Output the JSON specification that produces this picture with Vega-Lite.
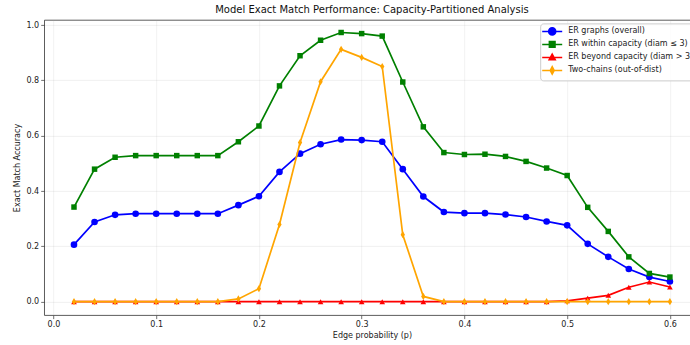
{
  "$schema": "https://vega.github.io/schema/vega-lite/v6.json",
  "autosize": "none",
  "padding": {"left": 44.2, "top": 19.9, "right": -9.7, "bottom": 29.9},
  "width": 655.5,
  "height": 295.2,
  "background": "white",
  "config": {
    "font": "DejaVu Sans",
    "view": {"stroke": "#333333", "strokeWidth": 0.8},
    "axis": {
      "domain": false,
      "grid": true,
      "gridColor": "#b0b0b0",
      "gridOpacity": 0.3,
      "gridWidth": 0.6,
      "tickColor": "#333333",
      "tickSize": 3.5,
      "tickWidth": 0.7,
      "labelFont": "DejaVu Sans",
      "labelFontSize": 8,
      "labelColor": "#222222",
      "labelPadding": 2,
      "titleFont": "DejaVu Sans",
      "titleFontSize": 8,
      "titleFontWeight": "normal",
      "titleColor": "#222222"
    },
    "title": {"font": "DejaVu Sans", "fontSize": 10, "fontWeight": "normal", "color": "#111111", "offset": 5}
  },
  "title": {"text": "Model Exact Match Performance: Capacity-Partitioned Analysis", "anchor": "middle"},
  "data": {
    "values": [
      {"p": 0.02, "series": "ER graphs (overall)", "acc": 0.206},
      {"p": 0.04, "series": "ER graphs (overall)", "acc": 0.288},
      {"p": 0.06, "series": "ER graphs (overall)", "acc": 0.314},
      {"p": 0.08, "series": "ER graphs (overall)", "acc": 0.318},
      {"p": 0.10, "series": "ER graphs (overall)", "acc": 0.318},
      {"p": 0.12, "series": "ER graphs (overall)", "acc": 0.318},
      {"p": 0.14, "series": "ER graphs (overall)", "acc": 0.318},
      {"p": 0.16, "series": "ER graphs (overall)", "acc": 0.318},
      {"p": 0.18, "series": "ER graphs (overall)", "acc": 0.349},
      {"p": 0.20, "series": "ER graphs (overall)", "acc": 0.381},
      {"p": 0.22, "series": "ER graphs (overall)", "acc": 0.469},
      {"p": 0.24, "series": "ER graphs (overall)", "acc": 0.535},
      {"p": 0.26, "series": "ER graphs (overall)", "acc": 0.569},
      {"p": 0.28, "series": "ER graphs (overall)", "acc": 0.586},
      {"p": 0.30, "series": "ER graphs (overall)", "acc": 0.584},
      {"p": 0.32, "series": "ER graphs (overall)", "acc": 0.578},
      {"p": 0.34, "series": "ER graphs (overall)", "acc": 0.479},
      {"p": 0.36, "series": "ER graphs (overall)", "acc": 0.380},
      {"p": 0.38, "series": "ER graphs (overall)", "acc": 0.324},
      {"p": 0.40, "series": "ER graphs (overall)", "acc": 0.320},
      {"p": 0.42, "series": "ER graphs (overall)", "acc": 0.320},
      {"p": 0.44, "series": "ER graphs (overall)", "acc": 0.315},
      {"p": 0.46, "series": "ER graphs (overall)", "acc": 0.306},
      {"p": 0.48, "series": "ER graphs (overall)", "acc": 0.290},
      {"p": 0.50, "series": "ER graphs (overall)", "acc": 0.276},
      {"p": 0.52, "series": "ER graphs (overall)", "acc": 0.209},
      {"p": 0.54, "series": "ER graphs (overall)", "acc": 0.162},
      {"p": 0.56, "series": "ER graphs (overall)", "acc": 0.118},
      {"p": 0.58, "series": "ER graphs (overall)", "acc": 0.089},
      {"p": 0.60, "series": "ER graphs (overall)", "acc": 0.073},
      {"p": 0.02, "series": "ER within capacity (diam ≤ 3)", "acc": 0.342},
      {"p": 0.04, "series": "ER within capacity (diam ≤ 3)", "acc": 0.479},
      {"p": 0.06, "series": "ER within capacity (diam ≤ 3)", "acc": 0.522},
      {"p": 0.08, "series": "ER within capacity (diam ≤ 3)", "acc": 0.528},
      {"p": 0.10, "series": "ER within capacity (diam ≤ 3)", "acc": 0.528},
      {"p": 0.12, "series": "ER within capacity (diam ≤ 3)", "acc": 0.528},
      {"p": 0.14, "series": "ER within capacity (diam ≤ 3)", "acc": 0.528},
      {"p": 0.16, "series": "ER within capacity (diam ≤ 3)", "acc": 0.528},
      {"p": 0.18, "series": "ER within capacity (diam ≤ 3)", "acc": 0.578},
      {"p": 0.20, "series": "ER within capacity (diam ≤ 3)", "acc": 0.635},
      {"p": 0.22, "series": "ER within capacity (diam ≤ 3)", "acc": 0.780},
      {"p": 0.24, "series": "ER within capacity (diam ≤ 3)", "acc": 0.889},
      {"p": 0.26, "series": "ER within capacity (diam ≤ 3)", "acc": 0.945},
      {"p": 0.28, "series": "ER within capacity (diam ≤ 3)", "acc": 0.973},
      {"p": 0.30, "series": "ER within capacity (diam ≤ 3)", "acc": 0.969},
      {"p": 0.32, "series": "ER within capacity (diam ≤ 3)", "acc": 0.960},
      {"p": 0.34, "series": "ER within capacity (diam ≤ 3)", "acc": 0.794},
      {"p": 0.36, "series": "ER within capacity (diam ≤ 3)", "acc": 0.632},
      {"p": 0.38, "series": "ER within capacity (diam ≤ 3)", "acc": 0.539},
      {"p": 0.40, "series": "ER within capacity (diam ≤ 3)", "acc": 0.532},
      {"p": 0.42, "series": "ER within capacity (diam ≤ 3)", "acc": 0.533},
      {"p": 0.44, "series": "ER within capacity (diam ≤ 3)", "acc": 0.525},
      {"p": 0.46, "series": "ER within capacity (diam ≤ 3)", "acc": 0.507},
      {"p": 0.48, "series": "ER within capacity (diam ≤ 3)", "acc": 0.483},
      {"p": 0.50, "series": "ER within capacity (diam ≤ 3)", "acc": 0.456},
      {"p": 0.52, "series": "ER within capacity (diam ≤ 3)", "acc": 0.341},
      {"p": 0.54, "series": "ER within capacity (diam ≤ 3)", "acc": 0.254},
      {"p": 0.56, "series": "ER within capacity (diam ≤ 3)", "acc": 0.162},
      {"p": 0.58, "series": "ER within capacity (diam ≤ 3)", "acc": 0.102},
      {"p": 0.60, "series": "ER within capacity (diam ≤ 3)", "acc": 0.089},
      {"p": 0.02, "series": "ER beyond capacity (diam > 3)", "acc": 0},
      {"p": 0.04, "series": "ER beyond capacity (diam > 3)", "acc": 0},
      {"p": 0.06, "series": "ER beyond capacity (diam > 3)", "acc": 0},
      {"p": 0.08, "series": "ER beyond capacity (diam > 3)", "acc": 0},
      {"p": 0.10, "series": "ER beyond capacity (diam > 3)", "acc": 0},
      {"p": 0.12, "series": "ER beyond capacity (diam > 3)", "acc": 0},
      {"p": 0.14, "series": "ER beyond capacity (diam > 3)", "acc": 0},
      {"p": 0.16, "series": "ER beyond capacity (diam > 3)", "acc": 0},
      {"p": 0.18, "series": "ER beyond capacity (diam > 3)", "acc": 0},
      {"p": 0.20, "series": "ER beyond capacity (diam > 3)", "acc": 0},
      {"p": 0.22, "series": "ER beyond capacity (diam > 3)", "acc": 0},
      {"p": 0.24, "series": "ER beyond capacity (diam > 3)", "acc": 0},
      {"p": 0.26, "series": "ER beyond capacity (diam > 3)", "acc": 0},
      {"p": 0.28, "series": "ER beyond capacity (diam > 3)", "acc": 0},
      {"p": 0.30, "series": "ER beyond capacity (diam > 3)", "acc": 0},
      {"p": 0.32, "series": "ER beyond capacity (diam > 3)", "acc": 0},
      {"p": 0.34, "series": "ER beyond capacity (diam > 3)", "acc": 0},
      {"p": 0.36, "series": "ER beyond capacity (diam > 3)", "acc": 0},
      {"p": 0.38, "series": "ER beyond capacity (diam > 3)", "acc": 0},
      {"p": 0.40, "series": "ER beyond capacity (diam > 3)", "acc": 0},
      {"p": 0.42, "series": "ER beyond capacity (diam > 3)", "acc": 0},
      {"p": 0.44, "series": "ER beyond capacity (diam > 3)", "acc": 0},
      {"p": 0.46, "series": "ER beyond capacity (diam > 3)", "acc": 0},
      {"p": 0.48, "series": "ER beyond capacity (diam > 3)", "acc": 0},
      {"p": 0.50, "series": "ER beyond capacity (diam > 3)", "acc": 0.003},
      {"p": 0.52, "series": "ER beyond capacity (diam > 3)", "acc": 0.013},
      {"p": 0.54, "series": "ER beyond capacity (diam > 3)", "acc": 0.023},
      {"p": 0.56, "series": "ER beyond capacity (diam > 3)", "acc": 0.052},
      {"p": 0.58, "series": "ER beyond capacity (diam > 3)", "acc": 0.071},
      {"p": 0.60, "series": "ER beyond capacity (diam > 3)", "acc": 0.053},
      {"p": 0.02, "series": "Two-chains (out-of-dist)", "acc": 0},
      {"p": 0.04, "series": "Two-chains (out-of-dist)", "acc": 0},
      {"p": 0.06, "series": "Two-chains (out-of-dist)", "acc": 0},
      {"p": 0.08, "series": "Two-chains (out-of-dist)", "acc": 0},
      {"p": 0.10, "series": "Two-chains (out-of-dist)", "acc": 0},
      {"p": 0.12, "series": "Two-chains (out-of-dist)", "acc": 0},
      {"p": 0.14, "series": "Two-chains (out-of-dist)", "acc": 0},
      {"p": 0.16, "series": "Two-chains (out-of-dist)", "acc": 0},
      {"p": 0.18, "series": "Two-chains (out-of-dist)", "acc": 0.010},
      {"p": 0.20, "series": "Two-chains (out-of-dist)", "acc": 0.047},
      {"p": 0.22, "series": "Two-chains (out-of-dist)", "acc": 0.279},
      {"p": 0.24, "series": "Two-chains (out-of-dist)", "acc": 0.575},
      {"p": 0.26, "series": "Two-chains (out-of-dist)", "acc": 0.795},
      {"p": 0.28, "series": "Two-chains (out-of-dist)", "acc": 0.912},
      {"p": 0.30, "series": "Two-chains (out-of-dist)", "acc": 0.883},
      {"p": 0.32, "series": "Two-chains (out-of-dist)", "acc": 0.850},
      {"p": 0.34, "series": "Two-chains (out-of-dist)", "acc": 0.242},
      {"p": 0.36, "series": "Two-chains (out-of-dist)", "acc": 0.019},
      {"p": 0.38, "series": "Two-chains (out-of-dist)", "acc": 0},
      {"p": 0.40, "series": "Two-chains (out-of-dist)", "acc": 0},
      {"p": 0.42, "series": "Two-chains (out-of-dist)", "acc": 0},
      {"p": 0.44, "series": "Two-chains (out-of-dist)", "acc": 0},
      {"p": 0.46, "series": "Two-chains (out-of-dist)", "acc": 0},
      {"p": 0.48, "series": "Two-chains (out-of-dist)", "acc": 0},
      {"p": 0.50, "series": "Two-chains (out-of-dist)", "acc": 0},
      {"p": 0.52, "series": "Two-chains (out-of-dist)", "acc": 0},
      {"p": 0.54, "series": "Two-chains (out-of-dist)", "acc": 0},
      {"p": 0.56, "series": "Two-chains (out-of-dist)", "acc": 0},
      {"p": 0.58, "series": "Two-chains (out-of-dist)", "acc": 0},
      {"p": 0.60, "series": "Two-chains (out-of-dist)", "acc": 0}
    ]
  },
  "encoding": {
    "x": {
      "field": "p", "type": "quantitative",
      "scale": {"domain": [-0.009, 0.629], "nice": false, "zero": false},
      "axis": {"values": [0, 0.1, 0.2, 0.3, 0.4, 0.5, 0.6], "format": ".1f", "title": "Edge probability (p)", "titlePadding": 3}
    },
    "y": {
      "field": "acc", "type": "quantitative",
      "scale": {"domain": [-0.0485, 1.0185], "nice": false, "zero": false},
      "axis": {"values": [0, 0.2, 0.4, 0.6, 0.8, 1.0], "format": ".1f", "title": "Exact Match Accuracy", "titlePadding": 4}
    },
    "color": {
      "field": "series", "type": "nominal",
      "scale": {
        "domain": ["ER graphs (overall)", "ER within capacity (diam ≤ 3)", "ER beyond capacity (diam > 3)", "Two-chains (out-of-dist)"],
        "range": ["#0000ff", "#008000", "#ff0000", "#ffa500"]
      },
      "legend": {
        "title": null,
        "orient": "none",
        "legendX": 496,
        "legendY": 3.5,
        "fillColor": "rgba(255,255,255,0.8)",
        "strokeColor": "#cccccc",
        "cornerRadius": 3,
        "padding": 3,
        "symbolSize": 64,
        "symbolOffset": 4,
        "symbolStrokeWidth": 1.5,
        "labelOffset": 11,
        "labelFontSize": 8,
        "labelColor": "#222222",
        "labelLimit": 400,
        "rowPadding": 0,
        "encode": {
          "symbols": {
            "update": {
              "shape": {"signal": "['M-2.5,0H2.5M0.89,0A0.89,0.89 0 1,1 -0.89,0A0.89,0.89 0 1,1 0.89,0Z', 'M-2.5,0H2.5M-0.71,-0.71H0.71V0.71H-0.71Z', 'M-2.5,0H2.5M0,-0.83L0.77,0.59H-0.77Z', 'M-2.5,0H2.5M0,-0.95L0.5,0L0,0.95L-0.5,0Z'][indexof(domain('color'), datum.value)]"},
              "fill": {"signal": "scale('color', datum.value)"},
              "stroke": {"signal": "scale('color', datum.value)"},
              "strokeWidth": {"value": 1.5},
              "opacity": {"value": 1},
              "fillOpacity": {"value": 1},
              "strokeOpacity": {"value": 1}
            }
          }
        }
      }
    }
  },
  "layer": [
    {"transform": [{"filter": "datum.series === 'ER graphs (overall)'"}], "mark": {"type": "line", "strokeWidth": 1.7}},
    {"transform": [{"filter": "datum.series === 'ER graphs (overall)'"}], "mark": {"type": "point", "filled": true, "opacity": 1, "shape": "circle", "size": 44}},
    {"transform": [{"filter": "datum.series === 'ER within capacity (diam ≤ 3)'"}], "mark": {"type": "line", "strokeWidth": 1.7}},
    {"transform": [{"filter": "datum.series === 'ER within capacity (diam ≤ 3)'"}], "mark": {"type": "point", "filled": true, "opacity": 1, "shape": "square", "size": 30}},
    {"transform": [{"filter": "datum.series === 'ER beyond capacity (diam > 3)'"}], "mark": {"type": "line", "strokeWidth": 1.7}},
    {"transform": [{"filter": "datum.series === 'ER beyond capacity (diam > 3)'"}], "mark": {"type": "point", "filled": true, "opacity": 1, "shape": "triangle-up", "size": 32}},
    {"transform": [{"filter": "datum.series === 'Two-chains (out-of-dist)'"}], "mark": {"type": "line", "strokeWidth": 1.7}},
    {"transform": [{"filter": "datum.series === 'Two-chains (out-of-dist)'"}], "mark": {"type": "point", "filled": true, "opacity": 1, "shape": "M0,-1L0.6,0L0,1L-0.6,0Z", "size": 52}}
  ]
}
